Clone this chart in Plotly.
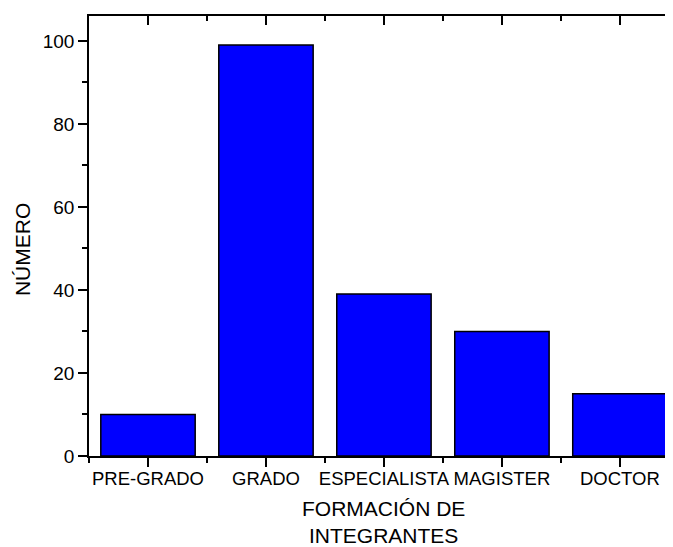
import plotly.graph_objects as go

categories = ["PRE-GRADO", "GRADO", "ESPECIALISTA", "MAGISTER", "DOCTOR"]
values = [10, 99, 39, 30, 15]
y_ticks = [0, 20, 40, 60, 80, 100]
x_title = "FORMACIÓN DE<br>INTEGRANTES"
y_title = "NÚMERO"

n = len(categories)
idx = list(range(n))
half_pos = [i - 0.5 for i in range(n + 1)]
xr = [-0.5, n - 0.55]
yr = [0, 106]
FONT = "Arial, Liberation Sans, sans-serif"

fig = go.Figure()
fig.add_trace(go.Bar(
    x=idx, y=values, width=0.8,
    marker=dict(color="#0000FF", line=dict(color="#000000", width=1.5)),
    showlegend=False, hoverinfo="x+y",
))
fig.add_trace(go.Scatter(x=[None], y=[None], xaxis="x2", yaxis="y2",
                         showlegend=False, hoverinfo="skip", mode="markers"))

common = dict(showgrid=False, zeroline=False, linecolor="black", linewidth=1.5,
              tickcolor="black", tickwidth=1.5, automargin=False)

fig.update_layout(
    width=665, height=539,
    margin=dict(l=81, r=0, t=8, b=91),
    paper_bgcolor="white", plot_bgcolor="white",
    font=dict(family=FONT, color="black"),
    bargap=0.2,
    xaxis=dict(range=xr, tickmode="array", tickvals=idx, ticktext=categories,
               ticks="outside", ticklen=9, showline=True, tickangle=0,
               ticklabelstandoff=-4,
               tickfont=dict(size=18.5, family=FONT),
               minor=dict(tickmode="array", tickvals=half_pos, ticks="outside",
                          ticklen=5, tickcolor="black", tickwidth=1.5),
               **common),
    yaxis=dict(range=yr, tickmode="array", tickvals=y_ticks,
               ticks="outside", ticklen=9, showline=True,
               tickfont=dict(size=19, family=FONT),
               minor=dict(dtick=10, tick0=0, ticks="outside", ticklen=5,
                          tickcolor="black", tickwidth=1.5),
               **common),
    xaxis2=dict(range=xr, overlaying="x", side="top", anchor="y2",
                tickmode="array", tickvals=idx, showticklabels=False,
                ticks="inside", ticklen=9, showline=True,
                minor=dict(tickmode="array", tickvals=half_pos, ticks="inside",
                           ticklen=5, tickcolor="black", tickwidth=1.5),
                **common),
    yaxis2=dict(range=yr, overlaying="y", side="right", anchor="x2",
                tickmode="array", tickvals=y_ticks, showticklabels=False,
                ticks="inside", ticklen=5, showline=False,
                minor=dict(dtick=10, tick0=0, ticks="", ticklen=3),
                **common),
    annotations=[
        dict(text=x_title, xref="paper", yref="paper", x=0.505, y=-0.151,
             xanchor="center", yanchor="middle", showarrow=False,
             font=dict(size=21, family=FONT)),
        dict(text=y_title, xref="paper", yref="paper", x=-0.1147, y=0.468,
             xanchor="center", yanchor="middle", textangle=-90, showarrow=False,
             font=dict(size=21, family=FONT)),
    ],
)

fig.write_html("out.html")
